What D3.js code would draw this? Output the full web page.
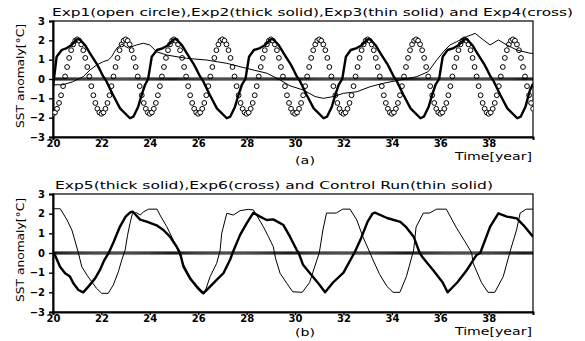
<!DOCTYPE html>
<html>
<head>
<meta charset="utf-8">
<script src="https://cdn.jsdelivr.net/npm/d3@7"></script>
<style>
  body { margin: 0; background: #fff; }
  svg { display: block; }
  text { font-family: 'DejaVu Sans', sans-serif; fill: #000; }
</style>
</head>
<body>
<div id="chart"></div>
<script>
// Monthly series start at year 20, one value per month
const MONTH_START = 20;

// Exp1 (open circle), monthly
const exp1 = [
  -1.80,-1.73,-1.54,-1.24,-0.84,-0.37,0.13,0.62,1.09,1.49,1.79,1.98,2.05,1.98,1.79,1.49,1.09,0.62,0.13,-0.37,-0.84,-1.24,-1.54,-1.73,
  -1.80,-1.73,-1.54,-1.24,-0.84,-0.37,0.13,0.62,1.09,1.49,1.79,1.98,2.05,1.98,1.79,1.49,1.09,0.62,0.13,-0.37,-0.84,-1.24,-1.54,-1.73,
  -1.80,-1.73,-1.54,-1.24,-0.84,-0.37,0.13,0.62,1.09,1.49,1.79,1.98,2.05,1.98,1.79,1.49,1.09,0.62,0.13,-0.37,-0.84,-1.24,-1.54,-1.73,
  -1.80,-1.73,-1.54,-1.24,-0.84,-0.37,0.13,0.62,1.09,1.49,1.79,1.98,2.05,1.98,1.79,1.49,1.09,0.62,0.13,-0.37,-0.84,-1.24,-1.54,-1.73,
  -1.80,-1.73,-1.54,-1.24,-0.84,-0.37,0.13,0.62,1.09,1.49,1.79,1.98,2.05,1.98,1.79,1.49,1.09,0.62,0.13,-0.37,-0.84,-1.24,-1.54,-1.73,
  -1.80,-1.73,-1.54,-1.24,-0.84,-0.37,0.13,0.62,1.09,1.49,1.79,1.98,2.05,1.98,1.79,1.49,1.09,0.62,0.13,-0.37,-0.84,-1.24,-1.54,-1.73,
  -1.80,-1.73,-1.54,-1.24,-0.84,-0.37,0.13,0.62,1.09,1.49,1.79,1.98,2.05,1.98,1.79,1.49,1.09,0.62,0.13,-0.37,-0.84,-1.24,-1.54,-1.73,
  -1.80,-1.73,-1.54,-1.24,-0.84,-0.37,0.13,0.62,1.09,1.49,1.79,1.98,2.05,1.98,1.79,1.49,1.09,0.62,0.13,-0.37,-0.84,-1.24,-1.54,-1.73,
  -1.80,-1.73,-1.54,-1.24,-0.84,-0.37,0.13,0.62,1.09,1.49,1.79,1.98,2.05,1.98,1.79,1.49,1.09,0.62,0.13,-0.37,-0.84,-1.24,-1.54,-1.73,
  -1.80,-1.73,-1.54,-1.24,-0.84,-0.37,0.13,0.62,1.09,1.49,1.79,1.98,2.05,1.98,1.79,1.49,1.09,0.62,0.13,-0.37,-0.84,-1.24,-1.54
];

// Exp4 and Exp6 (cross), monthly - both sit on zero
const exp4 = [
  0,0,0,0,0,0,0,0,0,0,0,0,0,0,0,0,0,0,0,0,0,0,0,0, 0,0,0,0,0,0,0,0,0,0,0,0,0,0,0,0,0,0,0,0,0,0,0,0,
  0,0,0,0,0,0,0,0,0,0,0,0,0,0,0,0,0,0,0,0,0,0,0,0, 0,0,0,0,0,0,0,0,0,0,0,0,0,0,0,0,0,0,0,0,0,0,0,0,
  0,0,0,0,0,0,0,0,0,0,0,0,0,0,0,0,0,0,0,0,0,0,0,0, 0,0,0,0,0,0,0,0,0,0,0,0,0,0,0,0,0,0,0,0,0,0,0,0,
  0,0,0,0,0,0,0,0,0,0,0,0,0,0,0,0,0,0,0,0,0,0,0,0, 0,0,0,0,0,0,0,0,0,0,0,0,0,0,0,0,0,0,0,0,0,0,0,0,
  0,0,0,0,0,0,0,0,0,0,0,0,0,0,0,0,0,0,0,0,0,0,0,0, 0,0,0,0,0,0,0,0,0,0,0,0,0,0,0,0,0,0,0,0,0,0,0
];
const exp6 = [
  0,0,0,0,0,0,0,0,0,0,0,0,0,0,0,0,0,0,0,0,0,0,0,0, 0,0,0,0,0,0,0,0,0,0,0,0,0,0,0,0,0,0,0,0,0,0,0,0,
  0,0,0,0,0,0,0,0,0,0,0,0,0,0,0,0,0,0,0,0,0,0,0,0, 0,0,0,0,0,0,0,0,0,0,0,0,0,0,0,0,0,0,0,0,0,0,0,0,
  0,0,0,0,0,0,0,0,0,0,0,0,0,0,0,0,0,0,0,0,0,0,0,0, 0,0,0,0,0,0,0,0,0,0,0,0,0,0,0,0,0,0,0,0,0,0,0,0,
  0,0,0,0,0,0,0,0,0,0,0,0,0,0,0,0,0,0,0,0,0,0,0,0, 0,0,0,0,0,0,0,0,0,0,0,0,0,0,0,0,0,0,0,0,0,0,0,0,
  0,0,0,0,0,0,0,0,0,0,0,0,0,0,0,0,0,0,0,0,0,0,0,0, 0,0,0,0,0,0,0,0,0,0,0,0,0,0,0,0,0,0,0,0,0,0,0
];

// Exp2 (thick solid), [year, anomaly]
const exp2 = [
  [20.0,-0.4],[20.15,1.15],[20.36,1.5],[20.57,1.6],[20.77,1.76],[20.98,2.05],[21.1,2.05],[21.32,1.76],[21.53,1.33],[21.8,0.8],[21.94,0.47],[22.08,0.12],[22.2,-0.1],[22.48,-0.83],[22.77,-1.52],[23.18,-2.03],[23.32,-1.95],[23.52,-1.43],[23.66,-0.83],[23.8,-0.31],[23.93,0.0],
  [24.08,1.15],[24.3,1.5],[24.55,1.6],[24.77,1.76],[24.98,2.05],[25.1,2.05],[25.32,1.76],[25.53,1.33],[25.8,0.8],[25.94,0.47],[26.08,0.12],[26.2,-0.1],[26.48,-0.83],[26.77,-1.52],[27.18,-2.03],[27.32,-1.95],[27.52,-1.43],[27.66,-0.83],[27.8,-0.31],[27.95,0.0],
  [28.1,1.15],[28.3,1.5],[28.55,1.6],[28.77,1.76],[28.98,2.05],[29.1,2.05],[29.32,1.76],[29.53,1.33],[29.8,0.8],[29.94,0.47],[30.08,0.12],[30.2,-0.1],[30.48,-0.83],[30.77,-1.52],[31.18,-2.03],[31.32,-1.95],[31.52,-1.43],[31.66,-0.83],[31.8,-0.31],[31.95,0.0],
  [32.1,1.15],[32.3,1.5],[32.55,1.6],[32.77,1.76],[32.98,2.05],[33.1,2.05],[33.32,1.76],[33.53,1.33],[33.8,0.8],[33.94,0.47],[34.08,0.12],[34.2,-0.1],[34.48,-0.83],[34.77,-1.52],[35.18,-2.03],[35.32,-1.95],[35.52,-1.43],[35.66,-0.83],[35.8,-0.31],[35.95,0.0],
  [36.1,1.15],[36.3,1.5],[36.55,1.6],[36.77,1.76],[36.98,2.05],[37.1,2.05],[37.32,1.76],[37.53,1.33],[37.8,0.8],[37.94,0.47],[38.08,0.12],[38.2,-0.1],[38.48,-0.83],[38.77,-1.52],[39.18,-2.03],[39.32,-1.95],[39.52,-1.43],[39.7,-0.6],[39.83,-0.25]
];

// Exp3 (thin solid)
const exp3 = [
  [20.0,-0.3],[20.4,-0.3],[20.8,-0.15],[21.25,0.12],[21.53,0.47],[21.8,0.72],[22.08,0.9],[22.28,0.98],[22.42,1.15],[22.63,1.59],[22.84,1.8],[23.11,1.6],
  [23.45,1.76],[23.73,1.85],[24.0,1.76],[24.28,1.41],[24.7,1.24],[25.52,1.07],[26.35,0.98],[27.18,0.81],[28.0,0.55],[28.83,0.3],[29.38,-0.05],
  [29.79,-0.35],[30.34,-0.57],[30.83,-0.91],[31.17,-1.0],[31.58,-0.91],[32.0,-0.74],[32.55,-0.66],[33.1,-0.4],[33.65,-0.22],[34.34,-0.05],
  [35.03,0.12],[35.5,0.38],[35.85,0.98],[36.13,1.41],[36.4,1.76],[36.68,1.93],[37.09,2.19],[37.44,2.36],[37.78,2.02],[38.06,1.76],[38.4,2.02],
  [38.75,1.76],[39.16,1.5],[39.71,1.33],[39.83,1.33]
];

// Exp5 (thick solid)
const exp5 = [
  [20.0,0.0],[20.08,-0.1],[20.29,-0.7],[20.5,-1.03],[20.7,-1.2],[20.84,-1.54],[21.05,-1.88],[21.25,-2.0],[21.46,-1.71],[21.74,-1.29],[21.94,-0.86],[22.12,-0.36],[22.3,0.0],
  [22.5,0.55],[22.75,1.3],[23.0,1.85],[23.2,2.08],[23.3,2.1],[23.6,1.7],[23.87,1.6],[24.28,1.41],[24.56,1.17],[24.83,0.83],[25.11,0.32],[25.25,0.0],
  [25.39,-0.7],[25.66,-1.29],[25.94,-1.71],[26.21,-2.05],[26.49,-1.71],[26.76,-1.37],[27.04,-1.03],[27.31,-0.36],[27.45,0.1],
  [27.73,0.92],[28.0,1.51],[28.28,2.05],[28.55,1.85],[28.83,1.68],[29.1,1.71],[29.52,1.42],[29.79,0.83],[30.07,0.15],[30.15,0.0],
  [30.33,-0.6],[30.6,-1.0],[31.0,-1.6],[31.24,-2.0],[31.57,-1.5],[32.0,-1.0],[32.4,-0.1],[32.45,0.0],
  [32.7,0.67],[33.0,1.6],[33.2,2.0],[33.3,2.05],[33.8,1.78],[34.35,1.58],[34.6,1.3],[34.9,0.83],[35.15,0.0],
  [35.3,-0.27],[35.7,-0.86],[36.1,-1.5],[36.3,-2.0],[36.7,-1.5],[37.1,-0.86],[37.5,-0.1],[37.65,0.0],
  [38.06,1.34],[38.4,2.02],[38.75,1.85],[39.16,1.76],[39.43,1.42],[39.83,0.83]
];

// Control run (thin solid)
const ctrl = [
  [20.0,2.25],[20.3,2.25],[20.58,1.68],[20.78,1.17],[20.9,0.66],[21.05,0.0],[21.19,-0.7],[21.4,-1.12],[21.6,-1.46],[21.8,-1.8],[22.01,-2.05],[22.28,-2.05],
  [22.49,-1.63],[22.7,-0.95],[22.84,-0.36],[22.98,0.15],[23.08,0.9],[23.18,1.5],[23.28,2.0],[23.45,2.05],[23.6,1.93],[23.75,2.1],[23.95,2.23],[24.3,2.23],
  [24.42,1.93],[24.7,1.34],[24.97,0.66],[25.18,0.07],[25.4,-0.6],[25.7,-1.3],[25.95,-1.8],[26.15,-2.05],[26.3,-1.9],[26.49,-1.2],[26.76,-0.53],[26.9,0.1],
  [26.97,1.0],[27.18,2.02],[27.45,1.93],[27.73,2.15],[28.07,2.22],[28.28,2.19],[28.69,1.34],[28.9,0.83],[29.1,0.32],[29.2,-0.3],[29.38,-1.03],[29.66,-1.54],
  [29.9,-1.97],[30.3,-2.0],[30.6,-1.5],[30.9,-0.36],[31.0,0.0],[31.15,1.17],[31.3,2.03],[31.7,2.03],[31.97,2.23],[32.27,2.23],[32.55,1.68],[32.8,0.83],
  [33.1,0.0],[33.2,-0.3],[33.5,-1.1],[33.8,-1.7],[34.05,-2.0],[34.33,-2.0],[34.6,-1.2],[34.9,0.15],[35.0,1.32],[35.3,2.03],[35.55,2.03],[35.85,2.23],
  [36.25,2.23],[36.65,1.32],[37.06,0.5],[37.3,0.0],[37.35,-0.5],[37.7,-1.5],[37.97,-2.0],[38.25,-2.0],[38.6,-1.2],[38.9,0.15],[39.15,1.17],[39.3,2.03],
  [39.55,2.23],[39.83,2.23]
];

const xTicks = [20, 22, 24, 26, 28, 30, 32, 34, 36, 38];
const yTicks = [-3, -2, -1, 0, 1, 2, 3];

const W = 585, H = 341;
const X0 = 53, X1 = 533;
const svg = d3.select('#chart').append('svg').attr('width', W).attr('height', H);

const x = d3.scaleLinear().domain([20, 39.83]).range([X0, X1]);
const monthTime = i => MONTH_START + i / 12;

function crossPath(px, py) {
  const s = 1.6;
  return `M${px - s},${py - s}L${px + s},${py + s}M${px - s},${py + s}L${px + s},${py - s}`;
}

function drawPanel(cfg) {
  const y = d3.scaleLinear().domain([-3, 3]).range([cfg.bottom, cfg.top]);
  const g = svg.append('g');
  const clipId = 'clip-' + cfg.id;
  svg.append('clipPath').attr('id', clipId).append('rect')
    .attr('x', X0).attr('y', cfg.top).attr('width', X1 - X0).attr('height', cfg.bottom - cfg.top);

  // frame
  g.append('rect').attr('x', X0).attr('y', cfg.top).attr('width', X1 - X0).attr('height', cfg.bottom - cfg.top)
    .attr('fill', 'none').attr('stroke', '#000').attr('stroke-width', 1.2);

  // axes
  const ya = g.append('g').attr('transform', `translate(${X0},0)`)
    .call(d3.axisLeft(y).tickValues(yTicks).tickSize(4).tickPadding(4).tickFormat(d3.format('d')));
  const xa = g.append('g').attr('transform', `translate(0,${cfg.bottom})`)
    .call(d3.axisBottom(x).tickValues(xTicks).tickSize(3).tickPadding(0).tickFormat(d3.format('d')));
  [ya, xa].forEach(a => {
    a.select('.domain').attr('stroke', '#000').attr('stroke-width', 2);
    a.selectAll('.tick line').attr('stroke', '#000').attr('stroke-width', 1.4);
    a.selectAll('.tick text').style('font-size', '10px').style('font-weight', 'bold')
      .style('font-family', "'DejaVu Sans', sans-serif").attr('fill', '#000');
  });

  const plot = g.append('g').attr('clip-path', `url(#${clipId})`);

  if (cfg.circles) {
    plot.selectAll('circle').data(cfg.circles).enter().append('circle')
      .attr('cx', (d, i) => x(monthTime(i))).attr('cy', d => y(d)).attr('r', 2.4)
      .attr('fill', '#fff').attr('stroke', '#000').attr('stroke-width', 1);
  }

  const line = d3.line().x(d => x(d[0])).y(d => y(d[1]));
  cfg.lines.forEach(l => {
    plot.append('path').datum(l.data).attr('d', line)
      .attr('fill', 'none').attr('stroke', '#000').attr('stroke-width', l.w)
      .attr('stroke-linejoin', 'round');
  });

  plot.append('path')
    .attr('d', cfg.crosses.map((d, i) => crossPath(x(monthTime(i)), y(d))).join(''))
    .attr('fill', 'none').attr('stroke', '#000').attr('stroke-width', 0.9);

  // texts
  svg.append('text').attr('x', cfg.titleX).attr('y', cfg.titleY)
    .attr('textLength', cfg.titleW).attr('lengthAdjust', 'spacingAndGlyphs')
    .style('font-size', '11px').text(cfg.title);

  svg.append('text')
    .attr('transform', `translate(24,${cfg.labelY}) rotate(-90)`)
    .attr('text-anchor', 'middle').attr('textLength', 104).attr('lengthAdjust', 'spacingAndGlyphs')
    .style('font-size', '11px').text('SST anomaly[°C]');

  svg.append('text').attr('x', 455).attr('y', cfg.timeY)
    .attr('textLength', 77).attr('lengthAdjust', 'spacingAndGlyphs')
    .style('font-size', '10px').text('Time[year]');

  svg.append('text').attr('x', 295).attr('y', cfg.tagY)
    .attr('textLength', 20).attr('lengthAdjust', 'spacingAndGlyphs')
    .style('font-size', '11px').text(cfg.tag);
}

drawPanel({
  id: 'a', top: 21, bottom: 137,
  title: 'Exp1(open circle),Exp2(thick solid),Exp3(thin solid) and Exp4(cross)',
  titleX: 52, titleY: 16, titleW: 521,
  labelY: 76, timeY: 160, tag: '(a)', tagY: 164,
  circles: exp1,
  lines: [{ data: exp3, w: 1 }, { data: exp2, w: 2.4 }],
  crosses: exp4
});

drawPanel({
  id: 'b', top: 194, bottom: 312,
  title: 'Exp5(thick solid),Exp6(cross) and Control Run(thin solid)',
  titleX: 55, titleY: 189, titleW: 438,
  labelY: 250, timeY: 335, tag: '(b)', tagY: 336,
  lines: [{ data: ctrl, w: 1 }, { data: exp5, w: 2.4 }],
  crosses: exp6
});
</script>
</body>
</html>
